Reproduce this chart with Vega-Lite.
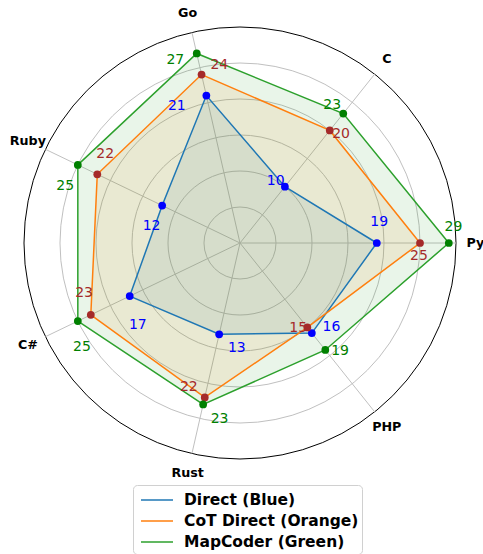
{
  "$schema": "https://vega.github.io/schema/vega-lite/v6.json",
  "width": 483,
  "height": 554,
  "padding": 0,
  "autosize": {"type": "none"},
  "config": {"font": "DejaVu Sans", "view": {"stroke": null}},
  "datasets": {
    "scores": [
      {"lang": "Py", "idx": 0, "series": "Direct (Blue)", "value": 19},
      {"lang": "C", "idx": 1, "series": "Direct (Blue)", "value": 10},
      {"lang": "Go", "idx": 2, "series": "Direct (Blue)", "value": 21},
      {"lang": "Ruby", "idx": 3, "series": "Direct (Blue)", "value": 12},
      {"lang": "C#", "idx": 4, "series": "Direct (Blue)", "value": 17},
      {"lang": "Rust", "idx": 5, "series": "Direct (Blue)", "value": 13},
      {"lang": "PHP", "idx": 6, "series": "Direct (Blue)", "value": 16},
      {"lang": "Py", "idx": 0, "series": "CoT Direct (Orange)", "value": 25},
      {"lang": "C", "idx": 1, "series": "CoT Direct (Orange)", "value": 20},
      {"lang": "Go", "idx": 2, "series": "CoT Direct (Orange)", "value": 24},
      {"lang": "Ruby", "idx": 3, "series": "CoT Direct (Orange)", "value": 22},
      {"lang": "C#", "idx": 4, "series": "CoT Direct (Orange)", "value": 23},
      {"lang": "Rust", "idx": 5, "series": "CoT Direct (Orange)", "value": 22},
      {"lang": "PHP", "idx": 6, "series": "CoT Direct (Orange)", "value": 15},
      {"lang": "Py", "idx": 0, "series": "MapCoder (Green)", "value": 29},
      {"lang": "C", "idx": 1, "series": "MapCoder (Green)", "value": 23},
      {"lang": "Go", "idx": 2, "series": "MapCoder (Green)", "value": 27},
      {"lang": "Ruby", "idx": 3, "series": "MapCoder (Green)", "value": 25},
      {"lang": "C#", "idx": 4, "series": "MapCoder (Green)", "value": 25},
      {"lang": "Rust", "idx": 5, "series": "MapCoder (Green)", "value": 23},
      {"lang": "PHP", "idx": 6, "series": "MapCoder (Green)", "value": 19}
    ],
    "langs": [
      {"lang": "Py", "idx": 0},
      {"lang": "C", "idx": 1},
      {"lang": "Go", "idx": 2},
      {"lang": "Ruby", "idx": 3},
      {"lang": "C#", "idx": 4},
      {"lang": "Rust", "idx": 5},
      {"lang": "PHP", "idx": 6}
    ],
    "grid": [
      {"r": 5, "kind": "grid"},
      {"r": 10, "kind": "grid"},
      {"r": 15, "kind": "grid"},
      {"r": 20, "kind": "grid"},
      {"r": 25, "kind": "grid"},
      {"r": 30, "kind": "spine"}
    ]
  },
  "resolve": {"scale": {"color": "independent", "fill": "independent"}},
  "layer": [
    {
      "data": {"name": "grid"},
      "mark": {"type": "arc", "theta": 0, "theta2": 6.3, "filled": false, "strokeWidth": 1},
      "encoding": {
        "x": {"datum": 0, "type": "quantitative", "scale": {"domain": [-33.3333, 33.75], "nice": false, "zero": false}, "axis": null},
        "y": {"datum": 0, "type": "quantitative", "scale": {"domain": [-43.1944, 33.75], "nice": false, "zero": false}, "axis": null},
        "radius": {"field": "r", "type": "quantitative", "stack": null, "scale": {"type": "linear", "domain": [0, 30], "range": [0, 216], "zero": true}},
        "stroke": {"field": "kind", "type": "nominal", "scale": {"domain": ["grid", "spine"], "range": ["#c0c0c0", "#000000"]}, "legend": null}
      }
    },
    {
      "data": {"name": "langs"},
      "transform": [
        {"calculate": "datum.idx * 2 * PI / 7", "as": "ang"},
        {"calculate": "30 * cos(datum.ang)", "as": "ex"},
        {"calculate": "30 * sin(datum.ang)", "as": "ey"},
        {"calculate": "0", "as": "z"}
      ],
      "mark": {"type": "rule", "color": "#c0c0c0", "strokeWidth": 1},
      "encoding": {
        "x": {"field": "z", "type": "quantitative", "axis": null},
        "y": {"field": "z", "type": "quantitative", "axis": null},
        "x2": {"field": "ex"},
        "y2": {"field": "ey"}
      }
    },
    {
      "data": {"name": "langs"},
      "transform": [
        {"calculate": "datum.idx * 2 * PI / 7", "as": "ang"},
        {"calculate": "32.7 * cos(datum.ang)", "as": "tx"},
        {"calculate": "32.7 * sin(datum.ang)", "as": "ty"}
      ],
      "mark": {"type": "text", "fontWeight": "bold", "fontSize": 12.7, "color": "#000000", "align": "center", "baseline": "middle"},
      "encoding": {
        "x": {"field": "tx", "type": "quantitative", "axis": null},
        "y": {"field": "ty", "type": "quantitative", "axis": null},
        "text": {"field": "lang"}
      }
    },
    {
      "data": {"name": "scores"},
      "transform": [
        {"calculate": "datum.idx * 2 * PI / 7", "as": "ang"},
        {"calculate": "datum.value * cos(datum.ang)", "as": "px"},
        {"calculate": "datum.value * sin(datum.ang)", "as": "py"}
      ],
      "mark": {"type": "line", "interpolate": "linear-closed", "fillOpacity": 0.1, "strokeOpacity": 0},
      "encoding": {
        "x": {"field": "px", "type": "quantitative", "axis": null},
        "y": {"field": "py", "type": "quantitative", "axis": null},
        "order": {"field": "idx"},
        "fill": {"field": "series", "type": "nominal", "scale": {"domain": ["Direct (Blue)", "CoT Direct (Orange)", "MapCoder (Green)"], "range": ["#1f77b4", "#ff7f0e", "#2ca02c"]}, "legend": null}
      }
    },
    {
      "data": {"name": "scores"},
      "transform": [
        {"calculate": "datum.idx * 2 * PI / 7", "as": "ang"},
        {"calculate": "datum.value * cos(datum.ang)", "as": "px"},
        {"calculate": "datum.value * sin(datum.ang)", "as": "py"}
      ],
      "mark": {"type": "line", "interpolate": "linear-closed", "strokeWidth": 1.5},
      "encoding": {
        "x": {"field": "px", "type": "quantitative", "axis": null},
        "y": {"field": "py", "type": "quantitative", "axis": null},
        "order": {"field": "idx"},
        "color": {
          "field": "series", "type": "nominal",
          "scale": {"domain": ["Direct (Blue)", "CoT Direct (Orange)", "MapCoder (Green)"], "range": ["#1f77b4", "#ff7f0e", "#2ca02c"]},
          "legend": {
            "title": null, "orient": "none", "legendX": 133, "legendY": 485,
            "labelFontSize": 15.5, "labelFontWeight": "bold", "labelColor": "#000000", "labelLimit": 400,
            "symbolType": "M-1.4545,0H1.4545", "symbolSize": 484, "symbolStrokeWidth": 1.5,
            "symbolOffset": 9, "labelOffset": 15,
            "strokeColor": "#d0d0d0", "fillColor": "#ffffff", "padding": 3, "cornerRadius": 4,
            "rowPadding": 0
          }
        }
      }
    },
    {
      "data": {"name": "scores"},
      "transform": [
        {"calculate": "datum.idx * 2 * PI / 7", "as": "ang"},
        {"calculate": "datum.value * cos(datum.ang)", "as": "px"},
        {"calculate": "datum.value * sin(datum.ang)", "as": "py"}
      ],
      "mark": {"type": "point", "filled": true, "opacity": 1, "size": 60},
      "encoding": {
        "x": {"field": "px", "type": "quantitative", "axis": null},
        "y": {"field": "py", "type": "quantitative", "axis": null},
        "color": {"field": "series", "type": "nominal", "scale": {"domain": ["Direct (Blue)", "CoT Direct (Orange)", "MapCoder (Green)"], "range": ["#0000ff", "#a52a2a", "#008000"]}, "legend": null}
      }
    },
    {
      "data": {"name": "scores"},
      "transform": [
        {"calculate": "datum.idx * 2 * PI / 7 + (datum.series == 'Direct (Blue)' ? 11 : datum.series == 'MapCoder (Green)' ? 6 : -6) * PI / 180", "as": "la"},
        {"calculate": "datum.value + (datum.series == 'Direct (Blue)' ? 0.7 : datum.series == 'MapCoder (Green)' ? 0.8 : 0)", "as": "lr"},
        {"calculate": "datum.lr * cos(datum.la)", "as": "lx"},
        {"calculate": "datum.lr * sin(datum.la) + (datum.series == 'CoT Direct (Orange)' ? 0.85 : -0.84)", "as": "ly"}
      ],
      "mark": {"type": "text", "fontSize": 14, "align": "center", "baseline": "middle"},
      "encoding": {
        "x": {"field": "lx", "type": "quantitative", "axis": null},
        "y": {"field": "ly", "type": "quantitative", "axis": null},
        "text": {"field": "value", "type": "quantitative"},
        "color": {"field": "series", "type": "nominal", "scale": {"domain": ["Direct (Blue)", "CoT Direct (Orange)", "MapCoder (Green)"], "range": ["#0000ff", "#a52a2a", "#008000"]}, "legend": null}
      }
    }
  ]
}
